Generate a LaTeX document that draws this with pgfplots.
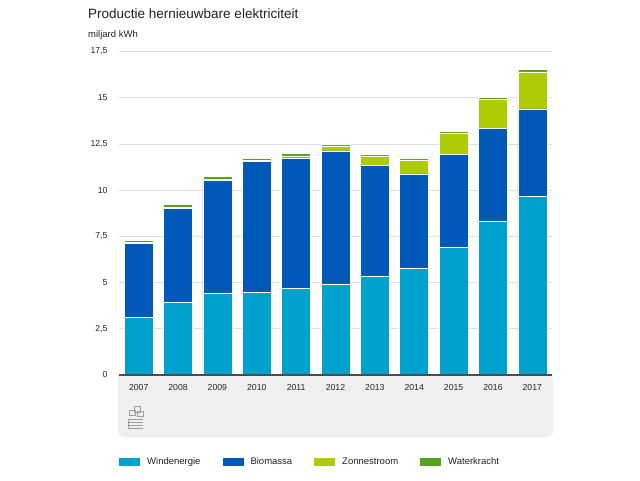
\documentclass[border=0pt]{standalone}
\usepackage{pgfplots}
\pgfplotsset{compat=1.18}
\usepackage{pgfplotstable}
\usepackage{fontspec}
\setmainfont{Liberation Sans}
\definecolor{wind}{HTML}{00A1CD}
\definecolor{bio}{HTML}{0058B8}
\definecolor{zon}{HTML}{AFCB05}
\definecolor{water}{HTML}{53A31D}
\definecolor{panel}{HTML}{EFEFEF}
\definecolor{txt}{HTML}{222222}
\pgfplotstableread{
x wind bio zon water
0 3.12 4.01 0.03 0.13
1 3.93 5.09 0.04 0.16
2 4.44 6.12 0.05 0.13
3 4.48 7.07 0.06 0.09
4 4.69 7.06 0.11 0.11
5 4.93 7.20 0.27 0.06
6 5.36 5.96 0.54 0.07
7 5.79 5.09 0.76 0.07
8 6.91 5.02 1.17 0.06
9 8.34 5.02 1.56 0.08
10 9.65 4.74 2.01 0.15
}\data
\begin{document}
\begin{tikzpicture}[x=1pt,y=1pt]
\useasboundingbox (-119,-105) rectangle (521,375);
\fill[white] (-119,-105) rectangle (521,375);
% grey panel under the axis
\fill[panel, rounded corners=5pt] (-1,0) -- (-1,-62) -- (434,-62) -- (434,0) [sharp corners]-- cycle;
% logo
\begin{scope}[draw=gray!75, line width=0.6pt]
\draw (10,-40) rectangle (16,-35);
\draw (15,-37) rectangle (21,-31);
\draw (18,-41) rectangle (24,-36);
\draw (9.5,-44) -- (24.5,-44);
\draw (9.5,-47) -- (24.5,-47);
\draw (9.5,-50) -- (24.5,-50);
\draw (9.5,-53) -- (24.5,-53);
\draw (9.5,-44) -- (9.5,-53);
\end{scope}
\node[anchor=base west, font=\fontsize{13.5}{16}\selectfont, text=txt, inner sep=0pt] at (-31,356) {Productie hernieuwbare elektriciteit};
\node[anchor=base west, font=\fontsize{9.5}{11}\selectfont, text=txt, inner sep=0pt] at (-31,337) {miljard kWh};
\begin{axis}[
  scale only axis,
  width=433pt, height=323.5pt,
  xmin=-0.5, xmax=10.5,
  ymin=0, ymax=17.5,
  ybar stacked,
  bar width=29pt,
  axis background/.style={fill=none},
  separate axis lines,
  axis x line*=bottom,
  axis y line*=left,
  y axis line style={draw=none},
  x axis line style={draw=none},
  major tick length=0pt,
  xtick=data,
  xticklabels={2007,2008,2009,2010,2011,2012,2013,2014,2015,2016,2017},
  ytick={0,2.5,5,7.5,10,12.5,15,17.5},
  yticklabels={0,{2,5},5,{7,5},10,{12,5},15,{17,5}},
  /pgf/number format/assume math mode=true,
  ticklabel style={font=\fontsize{8.7}{10}\selectfont, text=black!85},
  xticklabel style={yshift=-6pt},
  yticklabel style={xshift=-8pt},
  ymajorgrids,
  grid style={draw=black!13, line width=0.6pt},
  legend columns=4,
  legend style={at={(0,0)}, anchor=west, xshift=-3pt, yshift=-87pt, draw=none, fill=none,
    font=\fontsize{9.5}{11}\selectfont, text=txt,
    /tikz/every even column/.append style={column sep=20pt}},
  legend image code/.code={\fill[#1, draw=none] (0pt,-4pt) rectangle (21pt,4pt); \path[draw=none, fill=none] (0pt,0pt) -- (26pt,0pt);},
  every axis plot/.append style={draw=white, line width=0.5pt},
]
\addplot[fill=wind] table[x=x, y=wind] {\data};
\addplot[fill=bio] table[x=x, y=bio] {\data};
\addplot[fill=zon] table[x=x, y=zon] {\data};
\addplot[fill=water] table[x=x, y=water] {\data};
\legend{Windenergie, Biomassa, Zonnestroom, Waterkracht}
\end{axis}
\draw[black!70, line width=1.1pt] (0,0) -- (433,0);
\end{tikzpicture}
\end{document}
